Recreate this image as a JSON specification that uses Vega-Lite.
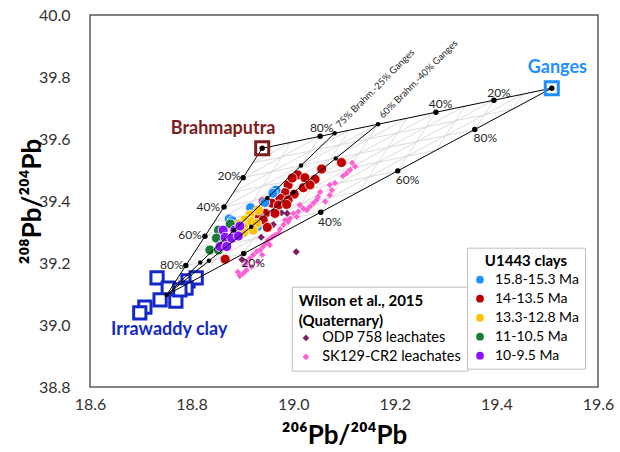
{
  "$schema": "https://vega.github.io/schema/vega-lite/v6.json",
  "width": 508,
  "height": 372,
  "autosize": "none",
  "padding": {"left": 90, "top": 15, "right": 22, "bottom": 65},
  "config": {"font": "Lato", "view": {"stroke": "#5a5a5a", "strokeWidth": 1.5}},
  "datasets": {
    "xt": [{"v": 18.7}, {"v": 18.8}, {"v": 18.9}, {"v": 19.0}, {"v": 19.1}, {"v": 19.2}, {"v": 19.3}, {"v": 19.4}, {"v": 19.5}],
    "yt": [{"v": 38.85}, {"v": 38.9}, {"v": 38.95}, {"v": 39.0}, {"v": 39.05}, {"v": 39.1}, {"v": 39.15}, {"v": 39.2}, {"v": 39.25}, {"v": 39.3}, {"v": 39.35}, {"v": 39.4}, {"v": 39.45}, {"v": 39.5}, {"v": 39.55}, {"v": 39.6}, {"v": 39.65}, {"v": 39.7}, {"v": 39.75}, {"v": 39.8}, {"v": 39.85}, {"v": 39.9}, {"v": 39.95}],
    "grid": [
      {"x": 18.9202, "y": 39.5227, "x2": 19.4332, "y2": 39.6973},
      {"x": 18.9014, "y": 39.4754, "x2": 19.3574, "y2": 39.6306},
      {"x": 18.8826, "y": 39.4281, "x2": 19.2816, "y2": 39.5639},
      {"x": 18.8638, "y": 39.3808, "x2": 19.2058, "y2": 39.4972},
      {"x": 18.845, "y": 39.3335, "x2": 19.13, "y2": 39.4305},
      {"x": 18.8262, "y": 39.2862, "x2": 19.0542, "y2": 39.3638},
      {"x": 18.8074, "y": 39.2389, "x2": 18.9784, "y2": 39.2971},
      {"x": 18.7886, "y": 39.1916, "x2": 18.9026, "y2": 39.2304},
      {"x": 18.7698, "y": 39.1443, "x2": 18.8268, "y2": 39.1637},
      {"x": 18.7698, "y": 39.1443, "x2": 19.452, "y2": 39.7446},
      {"x": 18.7886, "y": 39.1916, "x2": 19.395, "y2": 39.7252},
      {"x": 18.8074, "y": 39.2389, "x2": 19.338, "y2": 39.7058},
      {"x": 18.8262, "y": 39.2862, "x2": 19.281, "y2": 39.6864},
      {"x": 18.845, "y": 39.3335, "x2": 19.224, "y2": 39.667},
      {"x": 18.8638, "y": 39.3808, "x2": 19.167, "y2": 39.6476},
      {"x": 18.8826, "y": 39.4281, "x2": 19.11, "y2": 39.6282},
      {"x": 18.9014, "y": 39.4754, "x2": 19.053, "y2": 39.6088},
      {"x": 18.9202, "y": 39.5227, "x2": 18.996, "y2": 39.5894},
      {"x": 18.996, "y": 39.5894, "x2": 18.8268, "y2": 39.1637},
      {"x": 19.053, "y": 39.6088, "x2": 18.9026, "y2": 39.2304},
      {"x": 19.11, "y": 39.6282, "x2": 18.9784, "y2": 39.2971},
      {"x": 19.167, "y": 39.6476, "x2": 19.0542, "y2": 39.3638},
      {"x": 19.224, "y": 39.667, "x2": 19.13, "y2": 39.4305},
      {"x": 19.281, "y": 39.6864, "x2": 19.2058, "y2": 39.4972},
      {"x": 19.338, "y": 39.7058, "x2": 19.2816, "y2": 39.5639},
      {"x": 19.395, "y": 39.7252, "x2": 19.3574, "y2": 39.6306},
      {"x": 19.452, "y": 39.7446, "x2": 19.4332, "y2": 39.6973}
    ],
    "edges": [
      {"x": 18.939, "y": 39.57, "x2": 19.509, "y2": 39.764},
      {"x": 19.509, "y": 39.764, "x2": 18.751, "y2": 39.097},
      {"x": 18.751, "y": 39.097, "x2": 18.939, "y2": 39.57},
      {"x": 18.751, "y": 39.097, "x2": 19.0815, "y2": 39.6185},
      {"x": 18.751, "y": 39.097, "x2": 19.167, "y2": 39.6476}
    ],
    "dots": [
      {"x": 18.939, "y": 39.57, "k": "s"},
      {"x": 19.509, "y": 39.764, "k": "s"},
      {"x": 19.053, "y": 39.6088, "k": "s"},
      {"x": 19.281, "y": 39.6864, "k": "s"},
      {"x": 19.395, "y": 39.7252, "k": "s"},
      {"x": 18.9026, "y": 39.2304, "k": "s"},
      {"x": 19.0542, "y": 39.3638, "k": "s"},
      {"x": 19.2058, "y": 39.4972, "k": "s"},
      {"x": 19.3574, "y": 39.6306, "k": "s"},
      {"x": 18.7886, "y": 39.1916, "k": "s"},
      {"x": 18.8262, "y": 39.2862, "k": "s"},
      {"x": 18.8638, "y": 39.3808, "k": "s"},
      {"x": 18.9014, "y": 39.4754, "k": "s"},
      {"x": 18.751, "y": 39.097, "k": "b"},
      {"x": 19.0815, "y": 39.6185, "k": "b"},
      {"x": 19.167, "y": 39.6476, "k": "b"},
      {"x": 18.8171, "y": 39.2013, "k": "b"},
      {"x": 18.8832, "y": 39.3056, "k": "b"},
      {"x": 18.9493, "y": 39.4099, "k": "b"},
      {"x": 19.0154, "y": 39.5142, "k": "b"},
      {"x": 18.8342, "y": 39.2071, "k": "b"},
      {"x": 18.9174, "y": 39.3172, "k": "b"},
      {"x": 19.0006, "y": 39.4274, "k": "b"},
      {"x": 19.0838, "y": 39.5375, "k": "b"}
    ],
    "pct": [
      {"x": 19.056, "y": 39.635, "t": "80%"},
      {"x": 19.29, "y": 39.713, "t": "40%"},
      {"x": 19.405, "y": 39.749, "t": "20%"},
      {"x": 18.921, "y": 39.201, "t": "20%"},
      {"x": 19.072, "y": 39.333, "t": "40%"},
      {"x": 19.225, "y": 39.468, "t": "60%"},
      {"x": 19.378, "y": 39.602, "t": "80%"},
      {"x": 18.874, "y": 39.481, "t": "20%"},
      {"x": 18.833, "y": 39.382, "t": "40%"},
      {"x": 18.797, "y": 39.29, "t": "60%"},
      {"x": 18.761, "y": 39.194, "t": "80%"}
    ],
    "u1443": [
      {"x": 19.095, "y": 39.524, "age": "14-13.5 Ma"},
      {"x": 19.056, "y": 39.503, "age": "14-13.5 Ma"},
      {"x": 19.009, "y": 39.484, "age": "14-13.5 Ma"},
      {"x": 19.023, "y": 39.475, "age": "14-13.5 Ma"},
      {"x": 19.043, "y": 39.47, "age": "14-13.5 Ma"},
      {"x": 18.99, "y": 39.452, "age": "14-13.5 Ma"},
      {"x": 19.02, "y": 39.443, "age": "14-13.5 Ma"},
      {"x": 18.961, "y": 39.43, "age": "14-13.5 Ma"},
      {"x": 18.984, "y": 39.427, "age": "14-13.5 Ma"},
      {"x": 19.002, "y": 39.422, "age": "14-13.5 Ma"},
      {"x": 18.974, "y": 39.409, "age": "14-13.5 Ma"},
      {"x": 18.99, "y": 39.403, "age": "14-13.5 Ma"},
      {"x": 18.941, "y": 39.398, "age": "14-13.5 Ma"},
      {"x": 18.958, "y": 39.393, "age": "14-13.5 Ma"},
      {"x": 18.971, "y": 39.387, "age": "14-13.5 Ma"},
      {"x": 18.987, "y": 39.389, "age": "14-13.5 Ma"},
      {"x": 18.964, "y": 39.36, "age": "14-13.5 Ma"},
      {"x": 18.945, "y": 39.36, "age": "14-13.5 Ma"},
      {"x": 18.931, "y": 39.355, "age": "14-13.5 Ma"},
      {"x": 18.941, "y": 39.339, "age": "14-13.5 Ma"},
      {"x": 18.949, "y": 39.315, "age": "14-13.5 Ma"},
      {"x": 18.866, "y": 39.212, "age": "14-13.5 Ma"},
      {"x": 18.998, "y": 39.474, "age": "14-13.5 Ma"},
      {"x": 19.033, "y": 39.452, "age": "14-13.5 Ma"},
      {"x": 18.966, "y": 39.435, "age": "15.8-15.3 Ma"},
      {"x": 18.96, "y": 39.425, "age": "15.8-15.3 Ma"},
      {"x": 18.944, "y": 39.395, "age": "15.8-15.3 Ma"},
      {"x": 18.916, "y": 39.378, "age": "15.8-15.3 Ma"},
      {"x": 18.874, "y": 39.342, "age": "15.8-15.3 Ma"},
      {"x": 18.88, "y": 39.336, "age": "15.8-15.3 Ma"},
      {"x": 18.929, "y": 39.316, "age": "15.8-15.3 Ma"},
      {"x": 18.931, "y": 39.371, "age": "13.3-12.8 Ma"},
      {"x": 18.915, "y": 39.355, "age": "13.3-12.8 Ma"},
      {"x": 18.905, "y": 39.339, "age": "13.3-12.8 Ma"},
      {"x": 18.918, "y": 39.333, "age": "13.3-12.8 Ma"},
      {"x": 18.928, "y": 39.328, "age": "13.3-12.8 Ma"},
      {"x": 18.902, "y": 39.317, "age": "13.3-12.8 Ma"},
      {"x": 18.902, "y": 39.298, "age": "13.3-12.8 Ma"},
      {"x": 18.892, "y": 39.326, "age": "13.3-12.8 Ma"},
      {"x": 18.921, "y": 39.306, "age": "13.3-12.8 Ma"},
      {"x": 18.853, "y": 39.306, "age": "11-10.5 Ma"},
      {"x": 18.849, "y": 39.28, "age": "11-10.5 Ma"},
      {"x": 18.836, "y": 39.242, "age": "11-10.5 Ma"},
      {"x": 18.853, "y": 39.242, "age": "11-10.5 Ma"},
      {"x": 18.859, "y": 39.258, "age": "11-10.5 Ma"},
      {"x": 18.876, "y": 39.326, "age": "11-10.5 Ma"},
      {"x": 18.862, "y": 39.306, "age": "10-9.5 Ma"},
      {"x": 18.885, "y": 39.306, "age": "10-9.5 Ma"},
      {"x": 18.895, "y": 39.319, "age": "10-9.5 Ma"},
      {"x": 18.866, "y": 39.283, "age": "10-9.5 Ma"},
      {"x": 18.879, "y": 39.28, "age": "10-9.5 Ma"},
      {"x": 18.856, "y": 39.253, "age": "10-9.5 Ma"},
      {"x": 18.869, "y": 39.253, "age": "10-9.5 Ma"},
      {"x": 18.892, "y": 39.287, "age": "10-9.5 Ma"}
    ],
    "wilson": [
      {"x": 19.122, "y": 39.511, "src": "SK129-CR2 leachates"},
      {"x": 19.116, "y": 39.523, "src": "SK129-CR2 leachates"},
      {"x": 19.105, "y": 39.489, "src": "SK129-CR2 leachates"},
      {"x": 19.098, "y": 39.481, "src": "SK129-CR2 leachates"},
      {"x": 19.112, "y": 39.5, "src": "SK129-CR2 leachates"},
      {"x": 19.072, "y": 39.452, "src": "SK129-CR2 leachates"},
      {"x": 19.082, "y": 39.458, "src": "SK129-CR2 leachates"},
      {"x": 19.076, "y": 39.435, "src": "SK129-CR2 leachates"},
      {"x": 19.072, "y": 39.419, "src": "SK129-CR2 leachates"},
      {"x": 19.063, "y": 39.398, "src": "SK129-CR2 leachates"},
      {"x": 19.053, "y": 39.429, "src": "SK129-CR2 leachates"},
      {"x": 19.049, "y": 39.414, "src": "SK129-CR2 leachates"},
      {"x": 19.046, "y": 39.403, "src": "SK129-CR2 leachates"},
      {"x": 19.04, "y": 39.393, "src": "SK129-CR2 leachates"},
      {"x": 19.033, "y": 39.382, "src": "SK129-CR2 leachates"},
      {"x": 19.027, "y": 39.371, "src": "SK129-CR2 leachates"},
      {"x": 19.02, "y": 39.376, "src": "SK129-CR2 leachates"},
      {"x": 19.013, "y": 39.387, "src": "SK129-CR2 leachates"},
      {"x": 19.01, "y": 39.366, "src": "SK129-CR2 leachates"},
      {"x": 19.0, "y": 39.36, "src": "SK129-CR2 leachates"},
      {"x": 19.007, "y": 39.349, "src": "SK129-CR2 leachates"},
      {"x": 18.994, "y": 39.344, "src": "SK129-CR2 leachates"},
      {"x": 18.984, "y": 39.339, "src": "SK129-CR2 leachates"},
      {"x": 18.99, "y": 39.333, "src": "SK129-CR2 leachates"},
      {"x": 18.981, "y": 39.323, "src": "SK129-CR2 leachates"},
      {"x": 18.974, "y": 39.309, "src": "SK129-CR2 leachates"},
      {"x": 18.971, "y": 39.296, "src": "SK129-CR2 leachates"},
      {"x": 18.964, "y": 39.29, "src": "SK129-CR2 leachates"},
      {"x": 18.958, "y": 39.283, "src": "SK129-CR2 leachates"},
      {"x": 18.951, "y": 39.274, "src": "SK129-CR2 leachates"},
      {"x": 18.946, "y": 39.264, "src": "SK129-CR2 leachates"},
      {"x": 18.954, "y": 39.258, "src": "SK129-CR2 leachates"},
      {"x": 18.941, "y": 39.253, "src": "SK129-CR2 leachates"},
      {"x": 18.935, "y": 39.242, "src": "SK129-CR2 leachates"},
      {"x": 18.928, "y": 39.237, "src": "SK129-CR2 leachates"},
      {"x": 18.939, "y": 39.226, "src": "SK129-CR2 leachates"},
      {"x": 18.921, "y": 39.226, "src": "SK129-CR2 leachates"},
      {"x": 18.915, "y": 39.215, "src": "SK129-CR2 leachates"},
      {"x": 18.908, "y": 39.204, "src": "SK129-CR2 leachates"},
      {"x": 18.931, "y": 39.203, "src": "SK129-CR2 leachates"},
      {"x": 18.905, "y": 39.194, "src": "SK129-CR2 leachates"},
      {"x": 18.918, "y": 39.188, "src": "SK129-CR2 leachates"},
      {"x": 18.908, "y": 39.177, "src": "SK129-CR2 leachates"},
      {"x": 18.902, "y": 39.167, "src": "SK129-CR2 leachates"},
      {"x": 18.895, "y": 39.158, "src": "SK129-CR2 leachates"},
      {"x": 18.891, "y": 39.171, "src": "SK129-CR2 leachates"},
      {"x": 18.977, "y": 39.362, "src": "ODP 758 leachates"},
      {"x": 18.988, "y": 39.36, "src": "ODP 758 leachates"},
      {"x": 18.961, "y": 39.324, "src": "ODP 758 leachates"},
      {"x": 18.937, "y": 39.283, "src": "ODP 758 leachates"},
      {"x": 19.006, "y": 39.236, "src": "ODP 758 leachates"},
      {"x": 18.899, "y": 39.211, "src": "ODP 758 leachates"}
    ],
    "irr": [
      {"x": 18.732, "y": 39.152},
      {"x": 18.754, "y": 39.119},
      {"x": 18.738, "y": 39.081},
      {"x": 18.769, "y": 39.077},
      {"x": 18.793, "y": 39.142},
      {"x": 18.809, "y": 39.152},
      {"x": 18.789, "y": 39.119},
      {"x": 18.777, "y": 39.113},
      {"x": 18.708, "y": 39.058},
      {"x": 18.698, "y": 39.039}
    ]
  },
  "encoding": {
    "x": {"field": "x", "type": "quantitative", "scale": {"domain": [18.6, 19.6]},
      "axis": {"title": "²⁰⁶Pb/²⁰⁴Pb", "values": [18.6, 18.8, 19.0, 19.2, 19.4, 19.6], "format": ".1f",
        "grid": false, "domain": false, "ticks": false,
        "labelPadding": 9, "labelFontSize": 16, "labelColor": "#333333", "labelFlush": false, "labelOverlap": false,
        "titleFontSize": 26, "titleFontWeight": "bold", "titleColor": "#000000", "titlePadding": 10}},
    "y": {"field": "y", "type": "quantitative", "scale": {"domain": [38.8, 40.0]},
      "axis": {"title": "²⁰⁸Pb/²⁰⁴Pb", "values": [38.8, 39.0, 39.2, 39.4, 39.6, 39.8, 40.0], "format": ".1f",
        "grid": false, "domain": false, "ticks": false,
        "labelPadding": 20, "labelFontSize": 16, "labelColor": "#333333", "labelFlush": false, "labelOverlap": false,
        "titleFontSize": 26, "titleFontWeight": "bold", "titleColor": "#000000", "titlePadding": -7}}
  },
  "layer": [
    {
      "data": {"name": "xt"},
      "mark": {"type": "tick", "orient": "vertical", "size": 12, "thickness": 1.2, "color": "#303030", "clip": true, "opacity": 1},
      "encoding": {
        "x": {"field": "v", "type": "quantitative", "scale": {"domain": [18.6, 19.6]}},
        "y": {"datum": 38.8, "type": "quantitative", "scale": {"domain": [38.8, 40.0]}}
      }
    },
    {
      "data": {"name": "yt"},
      "mark": {"type": "tick", "orient": "horizontal", "size": 10, "thickness": 1.2, "color": "#303030", "clip": true, "opacity": 1},
      "encoding": {
        "y": {"field": "v", "type": "quantitative", "scale": {"domain": [38.8, 40.0]}},
        "x": {"datum": 18.6, "type": "quantitative", "scale": {"domain": [18.6, 19.6]}}
      }
    },
    {
      "data": {"name": "grid"},
      "mark": {"type": "rule", "color": "#d3d3d3", "strokeWidth": 0.8},
      "encoding": {"x2": {"field": "x2"}, "y2": {"field": "y2"}}
    },
    {
      "data": {"name": "wilson"},
      "mark": {"type": "point", "shape": "diamond", "filled": true, "opacity": 1},
      "encoding": {
        "fill": {"field": "src", "type": "nominal",
          "scale": {"domain": ["ODP 758 leachates", "SK129-CR2 leachates"], "range": ["#7b2161", "#ff5fd2"]},
          "legend": {"title": ["Wilson et al., 2015", "(Quaternary)"], "orient": "none", "legendX": 201.7, "legendY": 271.7,
            "symbolType": "diamond", "symbolSize": 45, "titleFontSize": 15, "titleFontWeight": "bold", "titleColor": "#000000",
            "titleLineHeight": 20, "labelFontSize": 14.5, "labelColor": "#000000", "strokeColor": "#bfbfbf", "fillColor": "white",
            "padding": 7, "rowPadding": 4, "labelOffset": 9, "titlePadding": 2}},
        "size": {"field": "src", "type": "nominal",
          "scale": {"domain": ["ODP 758 leachates", "SK129-CR2 leachates"], "range": [50, 20]}, "legend": null}
      }
    },
    {
      "data": {"name": "u1443"},
      "mark": {"type": "circle", "size": 100, "stroke": "white", "strokeWidth": 0.8, "opacity": 1},
      "encoding": {
        "color": {"field": "age", "type": "nominal",
          "scale": {"domain": ["15.8-15.3 Ma", "14-13.5 Ma", "13.3-12.8 Ma", "11-10.5 Ma", "10-9.5 Ma"],
            "range": ["#1e90ff", "#c00000", "#ffc000", "#1b7a38", "#8a10ff"]},
          "legend": {"title": "U1443 clays", "orient": "none", "legendX": 377, "legendY": 232.7,
            "symbolType": "circle", "symbolSize": 60, "symbolStrokeWidth": 0, "titleAnchor": "middle", "titleFontSize": 15,
            "titleFontWeight": "bold", "titleColor": "#000000", "labelFontSize": 14, "labelColor": "#000000",
            "strokeColor": "#bfbfbf", "fillColor": "white", "padding": 6, "rowPadding": 5, "labelOffset": 8, "titlePadding": 4}}
      }
    },
    {
      "data": {"name": "irr"},
      "mark": {"type": "point", "shape": "square", "filled": true, "fill": "white", "stroke": "#1428c8", "strokeWidth": 3, "size": 150, "opacity": 1}
    },
    {
      "data": {"name": "edges"},
      "mark": {"type": "rule", "color": "#000000", "strokeWidth": 1},
      "encoding": {"x2": {"field": "x2"}, "y2": {"field": "y2"}}
    },
    {
      "data": {"name": "dots"},
      "mark": {"type": "circle", "color": "#000000", "opacity": 1},
      "encoding": {
        "size": {"field": "k", "type": "nominal", "scale": {"domain": ["s", "b"], "range": [10, 30]}, "legend": null}
      }
    },
    {
      "data": {"values": [{"x": 18.939, "y": 39.57, "name": "Brahmaputra"}, {"x": 19.509, "y": 39.764, "name": "Ganges"}]},
      "mark": {"type": "point", "shape": "square", "filled": false, "strokeWidth": 3, "size": 170, "opacity": 1},
      "encoding": {
        "stroke": {"field": "name", "type": "nominal", "scale": {"domain": ["Brahmaputra", "Ganges"], "range": ["#7f1c1c", "#1e8fff"]}, "legend": null}
      }
    },
    {
      "data": {"name": "pct"},
      "mark": {"type": "text", "fontSize": 12, "color": "#262626", "align": "center", "baseline": "middle"},
      "encoding": {"text": {"field": "t"}}
    },
    {
      "data": {"values": [{"x": 19.092, "y": 39.635, "t": "75% Brahm.-25% Ganges"}, {"x": 19.177, "y": 39.665, "t": "60% Brahm.-40% Ganges"}]},
      "mark": {"type": "text", "fontSize": 9.5, "color": "#262626", "align": "left", "baseline": "alphabetic", "angle": 315},
      "encoding": {"text": {"field": "t"}}
    },
    {
      "data": {"values": [{"x": 18.862, "y": 39.631, "t": "Brahmaputra"}]},
      "mark": {"type": "text", "fontSize": 18, "fontWeight": "bold", "color": "#7f1c1c", "align": "center", "baseline": "middle"},
      "encoding": {"text": {"field": "t"}}
    },
    {
      "data": {"values": [{"x": 19.52, "y": 39.828, "t": "Ganges"}]},
      "mark": {"type": "text", "fontSize": 18, "fontWeight": "bold", "color": "#1e8fff", "align": "center", "baseline": "middle"},
      "encoding": {"text": {"field": "t"}}
    },
    {
      "data": {"values": [{"x": 18.756, "y": 38.984, "t": "Irrawaddy clay"}]},
      "mark": {"type": "text", "fontSize": 18, "fontWeight": "bold", "color": "#1428c8", "align": "center", "baseline": "middle"},
      "encoding": {"text": {"field": "t"}}
    }
  ]
}
